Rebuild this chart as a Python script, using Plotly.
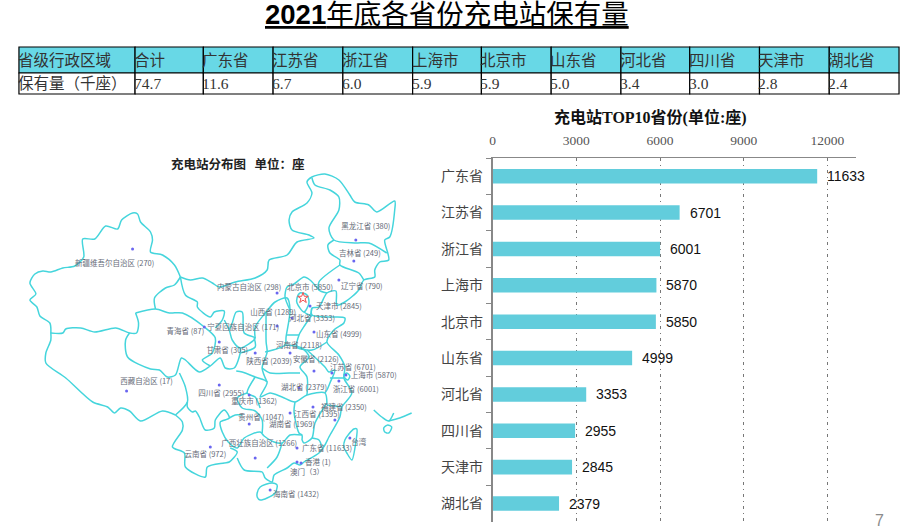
"""
Charging station stock by province - table, outline map and top 10 bars
"""
import plotly.graph_objects as go

# Table
table_header = ['省级行政区域', '合计', '广东省', '江苏省', '浙江省', '上海市', '北京市', '山东省', '河北省', '四川省', '天津市', '湖北省']
table_values = ['保有量（千座）', '74.7', '11.6', '6.7', '6.0', '5.9', '5.9', '5.0', '3.4', '3.0', '2.8', '2.4']
column_edges = [16, 132.5, 201, 271, 341, 411, 480, 550, 620, 689, 759, 829, 899]
row_edges = [47, 73, 94]

# Top 10 provinces
provinces = ['广东省', '江苏省', '浙江省', '上海市', '北京市', '山东省', '河北省', '四川省', '天津市', '湖北省']
stations = [11633, 6701, 6001, 5870, 5850, 4999, 3353, 2955, 2845, 2379]
axis_ticks = [0, 3000, 6000, 9000, 12000]

# Map labels and station dots
region_labels = ['黑龙江省 (380)', '吉林省 (249)', '辽宁省 (790)', '内蒙古自治区 (298)', '北京市 (5850)', '天津市 (2845)',
                 '山西省 (1289)', '河北省 (3353)', '宁夏回族自治区 (171)', '山东省 (4999)', '青海省 (87)', '甘肃省 (305)',
                 '河南省 (2118)', '陕西省 (2039)', '安徽省 (2126)', '江苏省 (6701)', '上海市 (5870)', '湖北省 (2379)',
                 '浙江省 (6001)', '四川省 (2955)', '重庆市 (1362)', '西藏自治区 (17)', '福建省 (2350)', '江西省 (1395)',
                 '贵州省 (1047)', '湖南省 (1969)', '台湾', '广西壮族自治区 (1266)', '广东省 (11633)', '云南省 (972)',
                 '香港 (1)', '澳门（3）', '海南省 (1432)', '新疆维吾尔自治区 (270)']
label_x = [364, 358, 360, 247, 308, 337, 271, 310, 241, 337, 183, 225, 297, 267, 314, 351, 372, 302, 354, 219, 252, 144,
           342, 315, 259, 290, 357, 257, 325, 203, 316, 305, 294, 112]
label_y = [227, 254, 287, 288, 288, 307, 313, 319, 328, 335, 332, 351, 346, 362, 360, 368, 376, 388, 390, 394, 402, 382,
           408, 415, 418, 425, 443, 444, 449, 455, 463, 473, 495, 264]
dot_x = [354, 352, 337, 275, 308, 290, 275, 312, 202, 217, 288, 253, 312, 330, 344, 297, 337, 217, 247, 124, 333, 311,
         247, 288, 348, 253, 295, 208, 299, 295, 268, 130]
dot_y = [240, 261, 280, 293, 306, 318, 326, 332, 327, 342, 353, 353, 371, 373, 375, 388, 381, 385, 395, 391, 420, 407,
         424, 413, 438, 458, 448, 447, 463, 462, 490, 249]
capital_x = [301]
capital_y = [298]

# Map outlines
xinjiang_north_x = [48, 47, 37, 34, 27, 33, 27, 32, 40, 48, 60, 72, 81, 80, 92, 103, 115, 119, 130, 135, 138, 148, 150, 148, 160, 172, 178]
xinjiang_north_y = [333, 323, 316, 307, 300, 294, 283, 274, 271, 272, 268, 266, 257, 239, 239, 226, 229, 220, 213, 214, 222, 232, 240, 252, 255, 265, 277]
xinjiang_gansu_x = [178, 172, 163, 152, 153]
xinjiang_gansu_y = [277, 285, 288, 298, 309]
xinjiang_tibet_x = [48, 60, 63, 78, 92, 113, 127, 134, 136, 133]
xinjiang_tibet_y = [333, 333, 329, 328, 332, 328, 333, 333, 323, 313]
qinghai_north_x = [133, 153, 167, 180, 202, 213, 210, 200, 208]
qinghai_north_y = [313, 309, 313, 313, 327, 338, 353, 360, 366]
tibet_west_x = [48, 48, 43, 43, 63, 90, 105, 112, 118, 127, 138, 160, 173]
tibet_west_y = [333, 340, 353, 363, 378, 402, 407, 413, 408, 411, 421, 411, 415]
tibet_north_x = [127, 123, 125, 148, 157, 165, 173, 179, 183, 197, 208, 218, 223, 232, 238, 238]
tibet_north_y = [333, 340, 357, 369, 370, 377, 375, 358, 360, 372, 366, 358, 368, 368, 353, 348]
sichuan_tibet_x = [177, 183, 185, 173]
sichuan_tibet_y = [373, 387, 402, 415]
sichuan_yunnan_x = [185, 185, 190, 193, 197, 203, 212, 213, 222, 227, 218, 220, 226, 235, 242, 258, 262, 272, 280, 288, 300]
sichuan_yunnan_y = [402, 407, 412, 411, 417, 430, 428, 420, 410, 418, 422, 432, 442, 448, 438, 432, 436, 442, 443, 435, 435]
yunnan_south_x = [173, 180, 180, 170, 182, 183, 203, 205, 222, 227, 235, 228]
yunnan_south_y = [415, 422, 430, 447, 453, 467, 477, 467, 463, 462, 452, 448]
gansu_mongolia_x = [178, 183, 195, 195, 208, 212, 222, 220, 213]
gansu_mongolia_y = [277, 295, 302, 307, 317, 312, 311, 320, 328]
ningxia_x = [222, 227, 230, 238, 253, 242, 240, 234, 230, 227]
ningxia_y = [320, 330, 340, 348, 338, 333, 312, 312, 323, 330]
shaanxi_north_x = [253, 253, 264, 273, 285, 288, 284, 283, 263]
shaanxi_north_y = [338, 327, 312, 302, 298, 310, 337, 345, 352]
shanxi_west_x = [264, 264, 265, 260, 265]
shanxi_west_y = [312, 342, 352, 368, 382]
shaanxi_west_x = [238, 253, 252]
shaanxi_west_y = [353, 347, 338]
sichuan_shaanxi_x = [234, 240, 253, 265, 258, 268, 280, 293, 305, 323, 325]
sichuan_shaanxi_y = [371, 372, 377, 382, 397, 393, 397, 402, 395, 393, 403]
chongqing_x = [253, 245, 253, 258]
chongqing_y = [377, 393, 397, 408]
chongqing_west_x = [245, 235, 240, 253, 260, 260]
chongqing_west_y = [393, 398, 408, 411, 420, 433]
guizhou_top_x = [227, 233, 240]
guizhou_top_y = [418, 415, 415]
north_border_x = [178, 188, 200, 210, 217, 233, 253, 265, 267, 285, 295, 312, 307, 290, 287, 290, 305, 310, 305, 310, 323, 337, 348, 353, 367, 375, 393, 393, 388, 383, 387, 378, 373, 373, 362, 357, 343, 335, 334, 325, 317, 310, 310, 322, 333, 343, 342, 332, 325, 337, 343, 342, 350, 340, 338, 327, 323, 317, 302, 298, 292, 285, 272, 270, 263, 260, 242, 235]
north_border_y = [277, 280, 278, 283, 287, 282, 278, 270, 260, 255, 242, 238, 235, 230, 220, 212, 203, 193, 182, 177, 174, 180, 195, 202, 205, 212, 201, 210, 237, 240, 260, 262, 270, 277, 280, 290, 302, 305, 291, 293, 307, 308, 315, 317, 317, 318, 323, 330, 342, 355, 367, 378, 393, 407, 417, 437, 445, 453, 462, 465, 463, 468, 475, 482, 478, 472, 470, 458]
heilongjiang_x = [310, 313, 328, 337, 337, 327, 332, 353, 367, 385]
heilongjiang_y = [178, 185, 190, 197, 210, 228, 240, 243, 243, 253]
jilin_x = [332, 326, 328, 338, 338, 357, 362]
jilin_y = [240, 245, 253, 260, 265, 273, 280]
mongolia_hebei_x = [338, 317, 317, 325]
mongolia_hebei_y = [265, 282, 290, 293]
hebei_north_x = [317, 308, 302, 292, 285, 283, 288]
hebei_north_y = [290, 280, 277, 284, 287, 297, 310]
beijing_x = [295, 302, 307, 305, 298, 295, 295]
beijing_y = [303, 312, 303, 295, 293, 298, 303]
tianjin_x = [302, 305, 308, 310]
tianjin_y = [312, 314, 315, 308]
hebei_shandong_x = [310, 303, 297, 295, 310, 325]
hebei_shandong_y = [315, 325, 335, 347, 350, 342]
hebei_henan_x = [285, 297]
hebei_henan_y = [335, 335]
shanxi_henan_x = [283, 300, 307, 298, 305, 305]
shanxi_henan_y = [345, 348, 357, 367, 377, 395]
henan_south_x = [260, 268, 287, 298]
henan_south_y = [368, 373, 373, 373]
jiangsu_anhui_x = [305, 323, 327, 333, 328, 325, 323]
jiangsu_anhui_y = [350, 367, 372, 370, 383, 390, 393]
zhejiang_north_x = [328, 342]
zhejiang_north_y = [378, 378]
shanghai_x = [342, 345, 348, 346, 343, 342]
shanghai_y = [375, 373, 376, 380, 378, 375]
jiangxi_x = [325, 340]
jiangxi_y = [405, 407]
hunan_east_x = [293, 292, 297, 300, 300]
hunan_east_y = [402, 412, 433, 435, 440]
fujian_west_x = [325, 313, 310, 302, 300]
fujian_west_y = [403, 423, 438, 443, 440]
guangdong_north_x = [310, 317, 320]
guangdong_north_y = [438, 440, 447]
guangxi_east_x = [280, 275, 265]
guangxi_east_y = [443, 457, 468]
hainan_x = [255, 258, 270, 275, 273, 265, 258, 255, 255]
hainan_y = [493, 487, 483, 485, 493, 498, 500, 497, 493]
taiwan_x = [343, 352, 355, 354, 350, 345, 342, 343]
taiwan_y = [440, 429, 429, 442, 460, 453, 447, 440]
islands_west_x = [372, 380, 387, 392]
islands_west_y = [410, 417, 421, 413]
islands_east_x = [387, 398, 410]
islands_east_y = [421, 418, 413]
island_ring_x = [382, 386, 390, 387, 383, 382]
island_ring_y = [428, 425, 427, 433, 432, 428]

map_outlines = [
    (xinjiang_north_x, xinjiang_north_y), (xinjiang_gansu_x, xinjiang_gansu_y),
    (xinjiang_tibet_x, xinjiang_tibet_y), (qinghai_north_x, qinghai_north_y),
    (tibet_west_x, tibet_west_y), (tibet_north_x, tibet_north_y),
    (sichuan_tibet_x, sichuan_tibet_y), (sichuan_yunnan_x, sichuan_yunnan_y),
    (yunnan_south_x, yunnan_south_y), (gansu_mongolia_x, gansu_mongolia_y),
    (ningxia_x, ningxia_y), (shaanxi_north_x, shaanxi_north_y),
    (shanxi_west_x, shanxi_west_y), (shaanxi_west_x, shaanxi_west_y),
    (sichuan_shaanxi_x, sichuan_shaanxi_y), (chongqing_x, chongqing_y),
    (chongqing_west_x, chongqing_west_y), (guizhou_top_x, guizhou_top_y),
    (north_border_x, north_border_y), (heilongjiang_x, heilongjiang_y),
    (jilin_x, jilin_y), (mongolia_hebei_x, mongolia_hebei_y),
    (hebei_north_x, hebei_north_y), (beijing_x, beijing_y),
    (tianjin_x, tianjin_y), (hebei_shandong_x, hebei_shandong_y),
    (hebei_henan_x, hebei_henan_y), (shanxi_henan_x, shanxi_henan_y),
    (henan_south_x, henan_south_y), (jiangsu_anhui_x, jiangsu_anhui_y),
    (zhejiang_north_x, zhejiang_north_y), (shanghai_x, shanghai_y),
    (jiangxi_x, jiangxi_y), (hunan_east_x, hunan_east_y),
    (fujian_west_x, fujian_west_y), (guangdong_north_x, guangdong_north_y),
    (guangxi_east_x, guangxi_east_y), (hainan_x, hainan_y),
    (taiwan_x, taiwan_y), (islands_west_x, islands_west_y),
    (islands_east_x, islands_east_y), (island_ring_x, island_ring_y),
]

SERIF = 'Liberation Serif, Noto Sans CJK SC'
CJK = 'Noto Sans CJK SC'

fig = go.Figure()

# Bars
fig.add_trace(go.Bar(
    x=stations,
    y=provinces,
    orientation='h',
    width=0.4,
    marker=dict(color='#62CDDC', line=dict(width=0)),
    showlegend=False
))

# Map outlines
for line_x, line_y in map_outlines:
    fig.add_trace(go.Scatter(
        x=line_x,
        y=line_y,
        xaxis='x2',
        yaxis='y2',
        mode='lines',
        line=dict(color='#45D5DC', width=1.5, shape='spline', smoothing=0.8),
        showlegend=False
    ))

# Station dots
fig.add_trace(go.Scatter(
    x=dot_x,
    y=dot_y,
    xaxis='x2',
    yaxis='y2',
    mode='markers',
    marker=dict(color='#6A66F0', size=3),
    showlegend=False
))
fig.add_trace(go.Scatter(
    x=capital_x,
    y=capital_y,
    xaxis='x2',
    yaxis='y2',
    mode='markers',
    marker=dict(color='#F05050', size=8, symbol='star-open', line=dict(color='#F05050', width=1)),
    showlegend=False
))

# Map labels
fig.add_trace(go.Scatter(
    x=label_x,
    y=label_y,
    xaxis='x2',
    yaxis='y2',
    mode='text',
    text=region_labels,
    textposition='middle center',
    textfont=dict(family=CJK, size=7.5, color='#666B78'),
    showlegend=False
))

# Table cells
for i in range(len(table_header)):
    fig.add_shape(
        type='rect', xref='x2', yref='y2', layer='below',
        x0=column_edges[i], x1=column_edges[i + 1], y0=row_edges[0], y1=row_edges[1],
        fillcolor='#68D8E6', line=dict(color='#000000', width=1.2)
    )
    fig.add_shape(
        type='rect', xref='x2', yref='y2', layer='below',
        x0=column_edges[i], x1=column_edges[i + 1], y0=row_edges[1], y1=row_edges[2],
        fillcolor='#FFFFFF', line=dict(color='#000000', width=1.2)
    )

    # Cell text
    fig.add_annotation(
        x=column_edges[i], y=(row_edges[0] + row_edges[1]) / 2, xref='x2', yref='y2',
        text=table_header[i], showarrow=False, xanchor='left', xshift=-3,
        font=dict(family=SERIF, size=15.5, color='#333333')
    )
    fig.add_annotation(
        x=column_edges[i], y=(row_edges[1] + row_edges[2]) / 2, xref='x2', yref='y2',
        text=table_values[i], showarrow=False, xanchor='left', xshift=-3,
        font=dict(family=SERIF, size=15.5, color='#333333')
    )

# Bar values
for province, value in zip(provinces, stations):
    fig.add_annotation(
        x=value, y=province, text=str(value), showarrow=False,
        xanchor='left', xshift=8,
        font=dict(family='Liberation Sans', size=14, color='#111111')
    )

# Titles
fig.add_annotation(
    x=445, y=14, xref='x2', yref='y2', showarrow=False,
    text='<u><b>2021</b>年底各省份充电站保有量</u>',
    font=dict(family='Liberation Sans, Noto Sans CJK SC', size=27.5, color='#000000')
)
fig.add_annotation(
    x=650, y=117, xref='x2', yref='y2', showarrow=False,
    text='<b>充电站TOP10省份(单位:座)</b>',
    font=dict(family=SERIF, size=16, color='#111111')
)
fig.add_annotation(
    x=236, y=163, xref='x2', yref='y2', showarrow=False,
    text='<b>充电站分布图   单位：座</b>',
    font=dict(family=CJK, size=12.5, color='#222222')
)
fig.add_annotation(
    x=879, y=520, xref='x2', yref='y2', showarrow=False,
    text='7',
    font=dict(family='Liberation Sans', size=16, color='#8C8C8C')
)

# Styling
fig.update_layout(
    width=907,
    height=532,
    margin=dict(l=0, r=0, t=0, b=0),
    paper_bgcolor='#FFFFFF',
    plot_bgcolor='rgba(0,0,0,0)',
    showlegend=False,
    xaxis=dict(
        domain=[491.3 / 907, 856 / 907],
        range=[0, 13030],
        side='top',
        tickvals=axis_ticks,
        ticktext=[str(tick) for tick in axis_ticks],
        ticks='',
        ticklabelstandoff=7,
        showgrid=True,
        gridcolor='#777777',
        griddash='3px,4px,1px,4px',
        gridwidth=1,
        zeroline=False,
        showline=True,
        linecolor='#888888',
        linewidth=1.2,
        tickfont=dict(family=SERIF, size=13.5, color='#555555')
    ),
    yaxis=dict(
        domain=[1 - 521.7 / 532, 1 - 158 / 532],
        autorange='reversed',
        type='category',
        tickson='boundaries',
        ticks='outside',
        ticklen=5,
        tickcolor='#888888',
        ticklabelstandoff=5,
        showgrid=False,
        zeroline=False,
        showline=True,
        linecolor='#888888',
        linewidth=1.5,
        tickfont=dict(family=CJK, size=14, color='#444444')
    ),
    xaxis2=dict(domain=[0, 1], range=[0, 907], visible=False, anchor='y2'),
    yaxis2=dict(domain=[0, 1], range=[532, 0], visible=False, anchor='x2')
)

fig.write_html('out.html', config=dict(displayModeBar=False), post_script="document.body.style.margin = '0';")
